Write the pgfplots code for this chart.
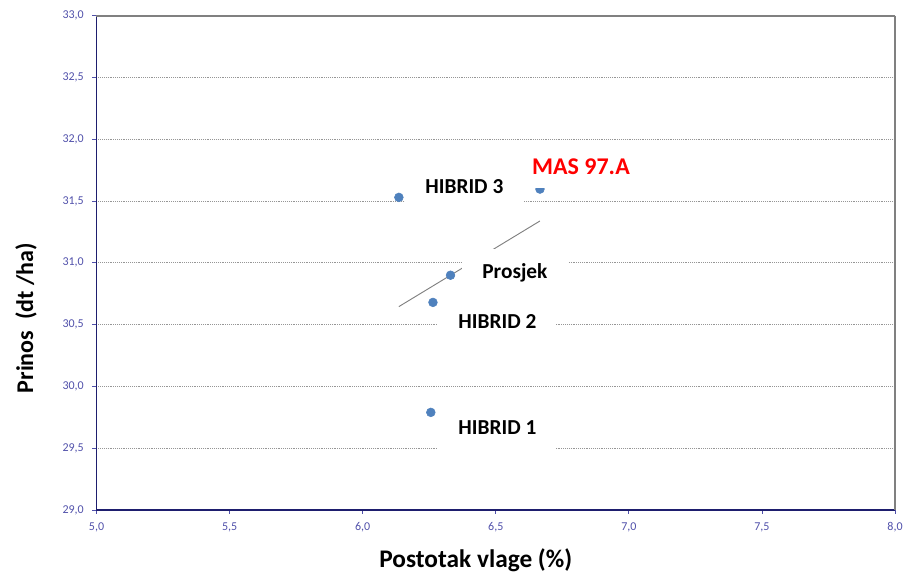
\documentclass[border=0pt]{standalone}
\usepackage{pgfplots}
\pgfplotsset{compat=1.18}
\usepackage{fontspec}
\setmainfont{Carlito}
\definecolor{ticklab}{RGB}{80,80,170}
\definecolor{axnavy}{RGB}{30,30,110}
\definecolor{ptblue}{RGB}{79,129,189}
\definecolor{gridgray}{RGB}{150,150,150}
\begin{document}
\begin{tikzpicture}
\begin{axis}[
  scale only axis, width=598.9pt, height=370.7pt,
  xmin=5, xmax=8, ymin=29, ymax=33,
  xtick={5,5.5,6,6.5,7,7.5,8}, ytick={29,29.5,30,30.5,31,31.5,32,32.5,33},
  axis x line*=bottom, axis y line*=left,
  axis line style={axnavy, line width=1.1pt, -},
  tick align=outside, major tick length=3pt,
  tick style={ticklab, line width=0.6pt},
  ymajorgrids, grid style={densely dotted, gridgray, line width=0.7pt},
  ticklabel style={font=\fontsize{9}{10}\selectfont, text=ticklab},
  yticklabel style={xshift=-3pt},
  xticklabel style={yshift=-3pt},
  /pgf/number format/.cd, fixed, fixed zerofill, precision=1, use comma, assume math mode=true,
  /pgfplots/.cd,
  clip=false,
]
\coordinate (O) at (rel axis cs:0,0);
\draw[gray, line width=1.3pt] (rel axis cs:0,1) -- (rel axis cs:1,1);
\draw[gray, line width=0.9pt] (rel axis cs:1,1) -- (rel axis cs:1,0);
% trend line
\addplot[color=gray, line width=0.7pt, no marks] coordinates {(6.136,30.646) (6.666,31.339)};
% data points: HIBRID 3, MAS 97.A, Prosjek, HIBRID 2, HIBRID 1
\addplot[only marks, mark=*, mark size=3.3pt, mark options={fill=ptblue, draw=ptblue}] coordinates {
  (6.136,31.53) (6.666,31.597) (6.33,30.90) (6.264,30.68) (6.256,29.79)};
% label positions
\coordinate (L3) at (axis cs:6.382,31.621);
\coordinate (LM) at (axis cs:6.820,31.775);
\coordinate (LP) at (axis cs:6.572,30.917);
\coordinate (L2) at (axis cs:6.506,30.529);
\coordinate (L1) at (axis cs:6.506,29.663);
% axis titles
\node[anchor=base, font=\fontsize{19}{21}\selectfont\bfseries] at ([yshift=-43.5pt]axis description cs:0.475,0) {Postotak vlage (\%)};
\node[anchor=base, rotate=90, font=\fontsize{18}{20}\selectfont\bfseries] at ([xshift=-47.6pt]axis description cs:0,0.388) {Prinos\ \ (dt /ha)};
\end{axis}
\node[fill=white, inner sep=0pt, minimum width=89pt, minimum height=36pt, font=\fontsize{16}{18}\selectfont\bfseries] at (L3) {HIBRID 3};
\node[fill=white, inner sep=0pt, minimum width=103.5pt, minimum height=32pt, text=red, font=\fontsize{18}{20}\selectfont\bfseries] at (LM) {MAS 97.A};
\node[fill=white, inner sep=0pt, minimum width=79.5pt, minimum height=36pt, font=\fontsize{16}{18}\selectfont\bfseries] at (LP) {Prosjek};
\node[fill=white, inner sep=0pt, minimum width=88.5pt, minimum height=36pt, font=\fontsize{16}{18}\selectfont\bfseries] at (L2) {HIBRID 2};
\node[fill=white, inner sep=0pt, minimum width=88.5pt, minimum height=36pt, font=\fontsize{16}{18}\selectfont\bfseries] at (L1) {HIBRID 1};
\pgfresetboundingbox
\path[use as bounding box] ([shift={(-72.375pt,-48pt)}]O) rectangle ++(677.25pt,430.5pt);
\end{tikzpicture}
\end{document}
